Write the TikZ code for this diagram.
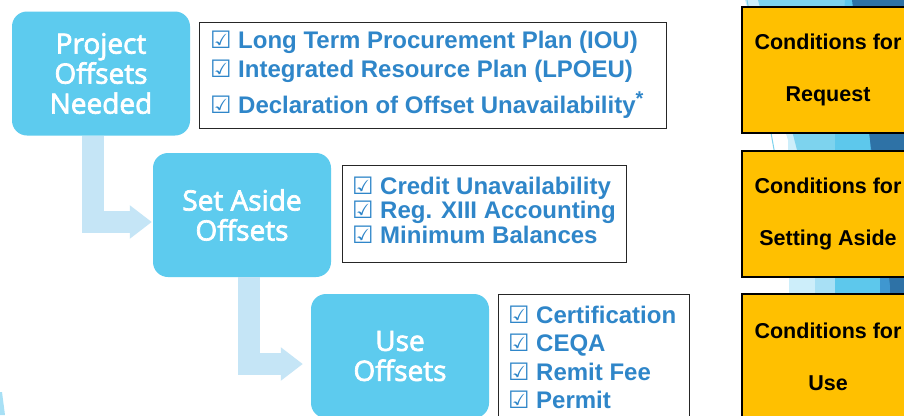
\documentclass[tikz,border=0pt]{standalone}
\usepackage{fontspec}
\usepackage{xcolor}
\usetikzlibrary{arrows.meta}
\setmainfont{Liberation Sans}
\newfontfamily\stagefont[FakeBold=2.5]{Open Sans}
\newfontfamily\tickfont{DejaVu Sans}
\definecolor{stageblue}{HTML}{5DCBEE}
\definecolor{flowblue}{HTML}{C5E5F6}
\definecolor{itemblue}{HTML}{2F86C9}
\definecolor{condorange}{HTML}{FFC000}
\definecolor{facetpale}{HTML}{CDEEFA}
\definecolor{facetsoft}{HTML}{A8E0F5}
\definecolor{facetlight}{HTML}{7DD3EE}
\definecolor{facetcyan}{HTML}{5DC8EC}
\definecolor{facetmid}{HTML}{3F97D0}
\definecolor{facetdark}{HTML}{2E72A6}
\newcommand{\tick}{\makebox[28pt][l]{\tickfont\fontsize{24}{24}\selectfont ☑}}

\begin{document}
\begin{tikzpicture}[x=1pt,y=-1pt]
    \useasboundingbox (0,0) rectangle (904,415);
    \fill[white] (0,0) rectangle (904,415);

    % slanted facets along the right edge
    \fill[facetpale]  (745,0) -- (904,0) -- (904,415) -- (790,415) -- (788,140) -- cycle;
    \fill[facetsoft]  (800,150) -- (904,150) -- (904,415) -- (815,415) -- (815,277) -- cycle;
    \fill[facetlight] (758,0) -- (904,0) -- (904,415) -- (835,415) -- (835,277) -- (797,150) -- cycle;
    \fill[facetcyan]  (845,0) -- (904,0) -- (904,415) -- (835,415) -- (835,133) -- cycle;
    \fill[facetmid]   (870,140) -- (904,140) -- (904,415) -- (880,415) -- (880,277) -- cycle;
    \fill[facetdark]  (852,0) -- (904,0) -- (904,415) -- (890,415) -- (890,285) -- (870,140) -- cycle;
    \draw[facetlight, line width=1pt] (747,0) -- (775,155);
    \fill[facetsoft] (0,392) -- (2,392) -- (5,415) -- (0,415) -- cycle;

    \tikzstyle{stage}=[fill=stageblue,rounded corners=15pt,minimum width=178pt,minimum height=124pt,text=white,align=center,inner sep=0pt,font=\fontsize{28}{30}\stagefont]
    \tikzstyle{listbox}=[draw=black!85,line width=1pt,inner sep=0pt]
    \tikzstyle{item}=[anchor=base west,inner sep=0pt,text=itemblue,font=\fontsize{24}{24}\bfseries]
    \tikzstyle{cond}=[draw=black,line width=2pt,fill=condorange,minimum width=172pt,minimum height=126pt,align=center,inner sep=0pt,font=\fontsize{21.5}{52}\bfseries]
    \tikzstyle{flow}=[draw=flowblue,line width=22pt,-{Triangle[width=32pt,length=22pt]}]

    \node[stage] (proj)  at (101,73.5) {Project\\Offsets\\Needed};
    \node[stage] (aside) at (242,215)  {Set Aside\\Offsets};
    \node[stage] (use)   at (400,356)  {Use\\Offsets};

    \draw [flow] ([xshift=-8pt]proj.south) |- ([xshift=-1pt,yshift=-7pt]aside.west);
    \draw [flow] ([xshift=7pt]aside.south) |- ([xshift=-8pt,yshift=-8pt]use.west);

    \node[listbox,minimum width=467pt,minimum height=106pt] (projl) at (432.5,75) {};
    \node[item] (projl1) at (210,48)  {\tick Long Term Procurement Plan (IOU)};
    \node[item] (projl2) at (210,77)  {\tick Integrated Resource Plan (LPOEU)};
    \node[item] (projl3) at (210,113) {\tick Declaration of Offset Unavailability\raisebox{8pt}{\fontsize{20}{20}\selectfont *}};

    \node[listbox,minimum width=284pt,minimum height=97pt] (asidel) at (484,213.5) {};
    \node[item] (asidel1) at (352,194) {\tick Credit Unavailability};
    \node[item] (asidel2) at (352,218) {\tick Reg. XIII Accounting};
    \node[item] (asidel3) at (352,243) {\tick Minimum Balances};

    \node[listbox,minimum width=191pt,minimum height=136pt] (usel) at (593.5,362) {};
    \node[item] (usel1) at (508,323) {\tick Certification};
    \node[item] (usel2) at (508,351) {\tick CEQA};
    \node[item] (usel3) at (508,380) {\tick Remit Fee};
    \node[item] (usel4) at (508,408) {\tick Permit};

    \node[cond] (projc)  at (828,70)    {Conditions for\\Request};
    \node[cond] (asidec) at (828,213.5) {Conditions for\\Setting Aside};
    \node[cond] (usec)   at (828,357)   {Conditions for\\Use};
\end{tikzpicture}
\end{document}
